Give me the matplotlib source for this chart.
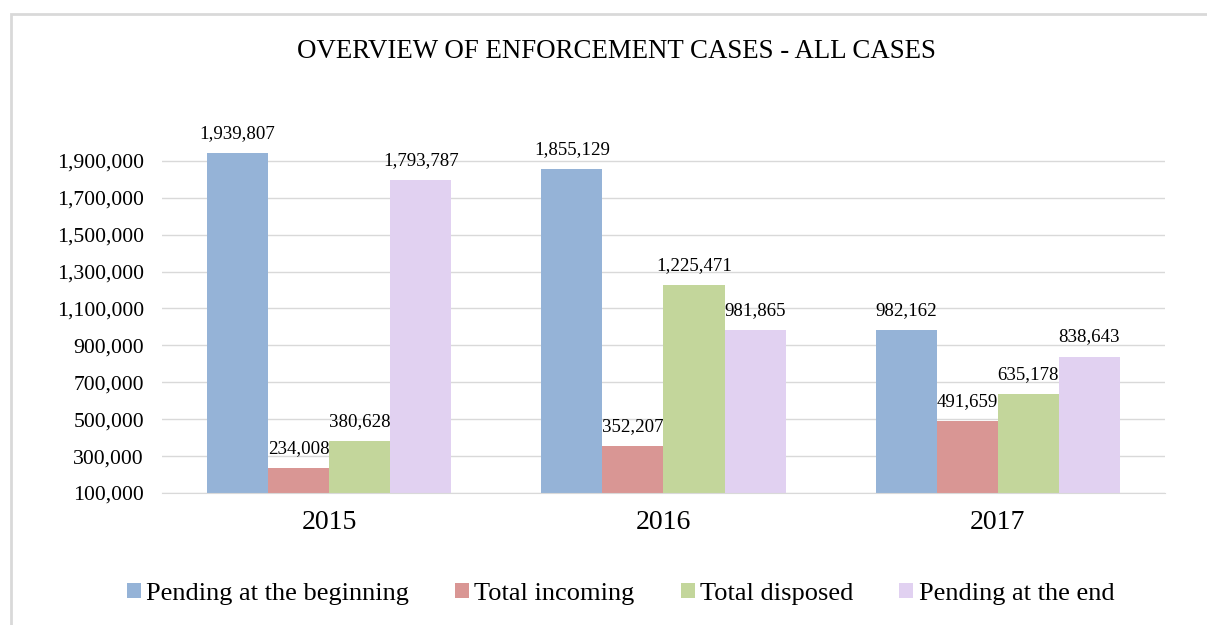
import numpy as np
import matplotlib
matplotlib.use("Agg")
import matplotlib.pyplot as plt
from matplotlib.patches import Rectangle

years = ["2015", "2016", "2017"]
series = ["Pending at the beginning", "Total incoming", "Total disposed", "Pending at the end"]
pending_start = [1939807, 1855129, 982162]
incoming = [234008, 352207, 491659]
disposed = [380628, 1225471, 635178]
pending_end = [1793787, 981865, 838643]
colors = ["#95B3D7", "#D99694", "#C3D69B", "#E1D1F1"]

plt.rcParams["font.family"] = ["Liberation Serif", "DejaVu Serif"]

fig = plt.figure(figsize=(12.07, 6.25), dpi=100)
ax = fig.add_axes([0.1342, 0.2112, 0.831, 0.561])

base = 100000
x = np.arange(len(years))
w = 0.1825
values = [pending_start, incoming, disposed, pending_end]
for i, (name, vals, c) in enumerate(zip(series, values, colors)):
    pos = x + (i - 1.5) * w
    heights = [v - base for v in vals]
    bars = ax.bar(pos, heights, w, bottom=base, color=c, label=name, zorder=2)
    for b, v in zip(bars, vals):
        ax.annotate(f"{v:,}", (b.get_x() + b.get_width() / 2, v),
                    xytext=(0, 8), textcoords="offset points",
                    ha="center", va="bottom", fontsize=13.6)

ax.set_xlim(-0.5, 2.5)
ax.set_ylim(base, 2000000)
ax.set_yticks(np.arange(100000, 1900001, 200000))
ax.yaxis.set_major_formatter(matplotlib.ticker.FuncFormatter(lambda v, p: f"{int(v):,}"))
ax.set_xticks(x)
ax.set_xticklabels(years, fontsize=20)
ax.tick_params(axis="y", length=0, pad=13, labelsize=15.6)
ax.tick_params(axis="x", length=0, pad=12)
ax.grid(axis="y", color="#D9D9D9", linewidth=1, zorder=0)
for s in ["top", "right", "left"]:
    ax.spines[s].set_visible(False)
ax.spines["bottom"].set_color("#D9D9D9")

fig.text(0.511, 0.918, "OVERVIEW OF ENFORCEMENT CASES - ALL CASES", ha="center", va="center", fontsize=19.4)

fig.legend(loc="center", bbox_to_anchor=(0.514, 0.05), ncol=4, frameon=False,
           fontsize=19, handlelength=0.53, handleheight=0.5, handletextpad=0.2,
           columnspacing=1.75)

# outer chart border
fig.patches.append(Rectangle((11 / 1207, -0.2), 1.1, 1.2 - 14 / 625, transform=fig.transFigure,
                             fill=False, edgecolor="#D9D9D9", linewidth=2))

fig.savefig("out.png", dpi=100)
